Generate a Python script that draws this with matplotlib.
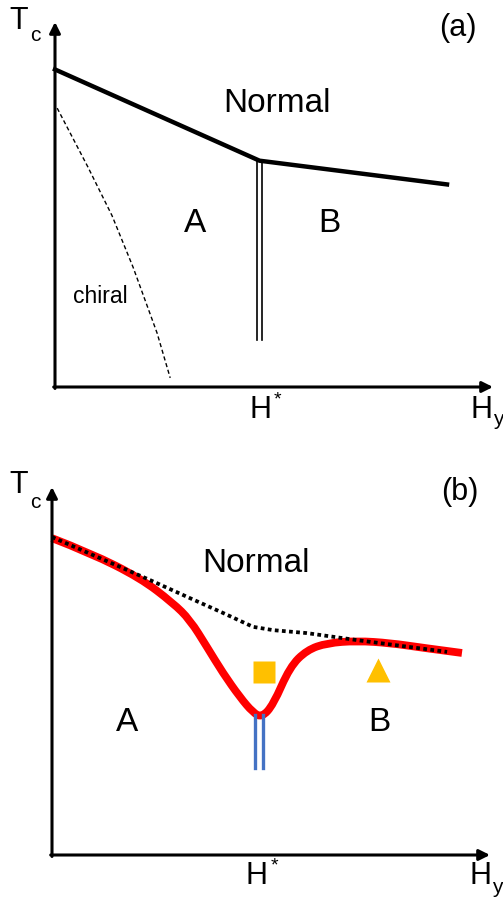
import matplotlib
matplotlib.use("Agg")
import matplotlib.pyplot as plt
from matplotlib.path import Path
from matplotlib.patches import PathPatch

plt.rcParams['font.family'] = ['Liberation Sans', 'DejaVu Sans']

# ---- panel (a) data ----
a_tc_line_h = [0.0, 4.67, 8.95]
a_tc_line_t = [8.7, 6.2, 5.55]
a_hstar = 4.67
a_hstar_span = [1.3, 6.2]
a_chiral_h = [0.05, 0.75, 1.30, 1.78, 2.33, 2.63]
a_chiral_t = [7.64, 6.03, 4.70, 3.29, 1.48, 0.25]

# ---- panel (b) data ----
b_red_h = [0.0, 0.87, 2.01, 2.76, 3.15, 3.54, 3.90, 4.29, 4.59, 4.79,
           5.05, 5.43, 5.82, 6.28, 6.96, 7.72, 8.47, 9.36]
b_red_t = [8.61, 8.21, 7.53, 6.85, 6.39, 5.65, 4.95, 4.29, 3.87, 3.74,
           4.08, 5.11, 5.57, 5.76, 5.82, 5.76, 5.63, 5.49]
b_dot_h = [0.0, 2.24, 3.15, 3.90, 4.59, 5.05, 5.82, 6.96, 9.02]
b_dot_t = [8.64, 7.47, 6.98, 6.58, 6.20, 6.11, 6.03, 5.84, 5.52]
b_hstar = 4.73
b_hstar_span = [2.36, 3.8]
b_square = (4.84, 4.97)
b_triangle = (7.44, 5.03)

BIG = 24


def smooth_path(xs, ys):
    # quadratic b-spline through the read points (points act as control points)
    pts = list(zip(xs, ys))
    verts = [pts[0]]
    codes = [Path.MOVETO]
    for i in range(1, len(pts) - 1):
        nxt = pts[i + 1] if i == len(pts) - 2 else (
            (pts[i][0] + pts[i + 1][0]) / 2, (pts[i][1] + pts[i + 1][1]) / 2)
        verts += [pts[i], nxt]
        codes += [Path.CURVE3, Path.CURVE3]
    return Path(verts, codes)


def draw_axes(ax):
    ax.set_xlim(0, 10)
    ax.set_ylim(0, 10)
    ax.axis('off')
    arrow = dict(arrowstyle='-|>', lw=2.2, color='black', mutation_scale=16,
                 shrinkA=0, shrinkB=0)
    ax.annotate('', xy=(0, 10), xytext=(0, -0.04), arrowprops=arrow,
                annotation_clip=False)
    ax.annotate('', xy=(10, 0), xytext=(-0.03, 0), arrowprops=arrow,
                annotation_clip=False)


def axis_labels(ax, t_xy, c_xy, h_xy, star_xy, hy_xy, y_xy):
    ax.text(*t_xy, 'T', fontsize=22, ha='center', va='center', clip_on=False)
    ax.text(*c_xy, 'c', fontsize=15, ha='center', va='center', clip_on=False)
    ax.text(*h_xy, 'H', fontsize=22, ha='center', va='center', clip_on=False)
    ax.text(*star_xy, '*', fontsize=14, ha='center', va='center', clip_on=False)
    ax.text(*hy_xy, 'H', fontsize=22, ha='center', va='center', clip_on=False)
    ax.text(*y_xy, 'y', fontsize=15, ha='center', va='center', clip_on=False)


fig = plt.figure(figsize=(5.03, 8.98), dpi=100)

# (a)
ax1 = fig.add_axes([55 / 503, 1 - 387 / 898, 438 / 503, 365 / 898])
draw_axes(ax1)
ax1.plot(a_tc_line_h, a_tc_line_t, color='black', lw=3.2, solid_joinstyle='miter',
         clip_on=False)
for dx in (-0.05, 0.05):
    ax1.plot([a_hstar + dx] * 2, a_hstar_span, color='black', lw=1.2,
             clip_on=False)
ax1.plot(a_chiral_h, a_chiral_t, color='black', lw=1, linestyle=(0, (3, 2)))
ax1.text(5.07, 7.78, 'Normal', fontsize=BIG, ha='center', va='center')
ax1.text(3.20, 4.47, 'A', fontsize=BIG, ha='center', va='center')
ax1.text(6.26, 4.47, 'B', fontsize=BIG, ha='center', va='center')
ax1.text(1.03, 2.47, 'chiral', fontsize=16.5, ha='center', va='center')
ax1.text(9.2, 9.84, '(a)', fontsize=22, ha='center', va='center', clip_on=False)
axis_labels(ax1, (-0.84, 10.03), (-0.46, 9.62), (4.70, -0.63), (5.07, -0.36),
            (9.73, -0.63), (10.12, -0.88))

# (b)
ax2 = fig.add_axes([52 / 503, 1 - 855 / 898, 438 / 503, 368 / 898])
draw_axes(ax2)
ax2.add_patch(PathPatch(smooth_path(b_red_h, b_red_t), fill=False,
                        edgecolor='#FF0000', lw=5.6, capstyle='butt',
                        joinstyle='round', clip_on=False))
ax2.plot(b_dot_h, b_dot_t, color='black', lw=2.7, linestyle=(0, (1, 0.9)),
         dash_capstyle='butt', clip_on=False)
for dx in (-0.09, 0.09):
    ax2.plot([b_hstar + dx] * 2, b_hstar_span, color='#4472C4', lw=2.4)
ax2.plot(*b_square, marker='s', ms=15.8, color='#FFC000', mec='none')
ax2.plot(*b_triangle, marker='^', ms=17.5, color='#FFC000', mec='none')
ax2.text(4.66, 7.93, 'Normal', fontsize=BIG, ha='center', va='center')
ax2.text(1.71, 3.61, 'A', fontsize=BIG, ha='center', va='center')
ax2.text(7.47, 3.61, 'B', fontsize=BIG, ha='center', va='center')
ax2.text(9.32, 9.86, '(b)', fontsize=22, ha='center', va='center', clip_on=False)
axis_labels(ax2, (-0.75, 10.05), (-0.39, 9.59), (4.68, -0.57), (5.09, -0.30),
            (9.79, -0.57), (10.16, -0.87))

fig.savefig('out.png', dpi=100)
